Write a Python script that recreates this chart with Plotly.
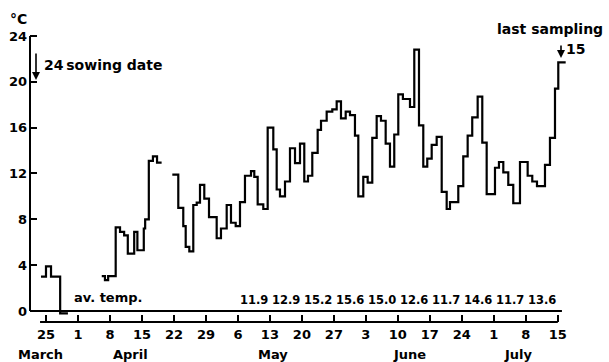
import plotly.graph_objects as go

# Daily mean air temperature, drawn as a stepped trace.
# x = day at which each step begins (days after 25 March), y = temperature (°C).
# Separate runs are separated by gaps where no record exists.
march_days = [-1.1, 0.0, 1.1, 3.1, 4.8]
march_temp = [3.0, 3.9, 3.0, -0.2, -0.2]

april_days = [12.2, 12.9, 13.6, 15.25, 16.2, 17.1, 17.9, 19.3, 20.0, 21.4, 21.7,
              22.5, 23.4, 24.3, 25.3]
april_temp = [3.05, 2.7, 3.05, 7.3, 6.9, 6.6, 5.0, 6.9, 5.3, 7.2, 8.0,
              13.1, 13.5, 12.95, 12.95]

main_days = [27.64, 28.95, 30.04, 30.57, 31.36, 32.23, 32.98, 33.70, 34.64, 35.67,
             37.35, 38.29, 39.54, 40.48, 41.51, 42.45, 43.54, 44.86, 45.58, 46.32,
             47.55, 48.51, 49.74, 50.48, 51.20, 52.30, 53.39, 54.49, 55.58, 56.52,
             57.33, 58.27, 59.45, 60.18, 61.42, 62.65, 63.61, 64.55, 65.58, 66.52,
             67.61, 68.34, 69.43, 70.39, 71.40, 72.36, 73.30, 74.33, 75.27, 76.21,
             77.09, 78.10, 79.65, 80.59, 81.62, 82.56, 83.43, 84.40, 85.49, 86.59,
             87.68, 88.40, 90.22, 91.31, 92.27, 93.27, 94.46, 95.47, 96.43, 98.25,
             99.12, 100.07, 101.16, 102.25, 103.72, 105.40, 106.41, 107.44, 109.19, 110.28,
             111.38, 112.10, 113.72]
main_temp = [11.9, 9.0, 7.4, 5.6, 5.2, 9.25, 9.45, 11.0, 9.8, 8.2,
             6.35, 7.2, 9.25, 7.7, 7.4, 9.5, 11.8, 12.2, 11.7, 9.3,
             8.9, 16.0, 14.1, 10.6, 10.0, 11.3, 14.2, 12.9, 14.6, 11.3,
             11.8, 13.8, 15.8, 16.6, 17.4, 17.6, 18.3, 16.8, 17.4, 17.1,
             15.3, 10.0, 11.7, 11.2, 15.1, 17.0, 16.6, 14.6, 12.6, 15.4,
             18.9, 18.5, 17.8, 22.8, 16.2, 12.6, 13.3, 14.5, 15.2, 10.4,
             8.9, 9.5, 10.9, 13.5, 15.3, 16.9, 18.7, 14.7, 10.2, 12.5,
             13.0, 12.1, 11.0, 9.4, 13.0, 11.8, 11.3, 10.9, 12.75, 15.1,
             19.4, 21.7, 21.7]

# Weekly average temperatures (labelled under the trace, centred on each week)
week_mid_days = [45.5, 52.5, 59.5, 66.5, 73.5, 80.5, 87.5, 94.5, 101.5, 108.5]
week_avg = [11.9, 12.9, 15.2, 15.6, 15.0, 12.6, 11.7, 14.6, 11.7, 13.6]

# Date axis: weekly ticks from 25 March to 15 July
tick_days = [0, 7, 14, 21, 28, 35, 42, 49, 56, 63, 70, 77, 84, 91, 98, 105, 112]
tick_text = ["25", "1", "8", "15", "22", "29", "6", "13", "20", "27", "3", "10",
             "17", "24", "1", "8", "15"]
month_names = ["March", "April", "May", "June", "July"]
month_pos = [-1.3, 18.6, 49.7, 79.6, 103.3]

y_ticks = [0, 4, 8, 12, 16, 20, 24]

FONT = "DejaVu Sans"
W, H = 609, 362
ML, MR, MT, MB = 30, 9, 30, 40
X_RANGE = [-3.5, 121.23]
Y_RANGE = [-0.96, 24.52]


def px(x):
    return (x - ML) / (W - ML - MR)


def py(y):
    return (H - MB - y) / (H - MT - MB)


def bold(size):
    return dict(family=FONT, size=size, color="black", weight="bold")


days = march_days + [None] + april_days + [None] + main_days
temps = march_temp + [None] + april_temp + [None] + main_temp

fig = go.Figure()
fig.add_trace(go.Scatter(
    x=days, y=temps, mode="lines", line=dict(color="black", width=2.2, shape="hv"),
    connectgaps=False, hoverinfo="skip", showlegend=False,
))

annotations = []
for d, v in zip(week_mid_days, week_avg):
    annotations.append(dict(x=d, y=0.95, xref="x", yref="y", text=f"{v:.1f}",
                            showarrow=False, font=bold(11.5),
                            xanchor="center", yanchor="middle"))

for name, d in zip(month_names, month_pos):
    annotations.append(dict(x=d, y=py(354), xref="x", yref="paper", text=name,
                            showarrow=False, font=bold(13),
                            xanchor="center", yanchor="middle"))

annotations += [
    dict(x=px(8), y=py(19), xref="paper", yref="paper", text="°C", showarrow=False,
         font=bold(14), xanchor="left", yanchor="middle"),
    dict(x=px(72), y=py(297), xref="paper", yref="paper", text="av. temp.", showarrow=False,
         font=bold(13), xanchor="left", yanchor="middle"),
    dict(x=px(42), y=py(65), xref="paper", yref="paper", text="24\u2009sowing date",
         showarrow=False, font=bold(14), xanchor="left", yanchor="middle"),
    dict(x=px(495), y=py(29), xref="paper", yref="paper", text="last sampling",
         showarrow=False, font=bold(14), xanchor="left", yanchor="middle"),
    dict(x=px(564), y=py(49), xref="paper", yref="paper", text="15",
         showarrow=False, font=bold(14), xanchor="left", yanchor="middle"),
    # arrows marking sowing date and last sampling
    dict(x=px(36), y=py(80), xref="paper", yref="paper", ax=0, ay=-28, text="",
         showarrow=True, arrowhead=2, arrowsize=1, arrowwidth=1.6, arrowcolor="black"),
    dict(x=px(561), y=py(58), xref="paper", yref="paper", ax=0, ay=-14, text="",
         showarrow=True, arrowhead=2, arrowsize=1, arrowwidth=1.6, arrowcolor="black"),
]

shapes = [
    # temperature axis line
    dict(type="line", xref="paper", yref="y", x0=0, x1=0, y0=0, y1=24,
         line=dict(color="black", width=2)),
    # zero line
    dict(type="line", xref="x", yref="y", x0=X_RANGE[0], x1=112.9, y0=0, y1=0,
         line=dict(color="black", width=2)),
    # date axis line
    dict(type="line", xref="x", yref="paper", x0=-1.3, x1=112, y0=0, y1=0,
         line=dict(color="black", width=2)),
]

fig.update_layout(
    width=W, height=H,
    margin=dict(l=ML, r=MR, t=MT, b=MB, pad=0),
    paper_bgcolor="white", plot_bgcolor="white",
    font=bold(13),
    annotations=annotations, shapes=shapes,
    xaxis=dict(range=X_RANGE, tickmode="array", tickvals=tick_days, ticktext=tick_text,
               ticks="inside", ticklen=7, tickwidth=2, tickcolor="black",
               showline=False, showgrid=False, zeroline=False,
               tickfont=bold(13), ticklabelstandoff=3),
    yaxis=dict(range=Y_RANGE, tickmode="array", tickvals=y_ticks,
               ticks="inside", ticklen=7, tickwidth=2, tickcolor="black",
               showline=False, showgrid=False, zeroline=False,
               tickfont=bold(13), ticklabelstandoff=2),
)

fig.write_html("out.html")
